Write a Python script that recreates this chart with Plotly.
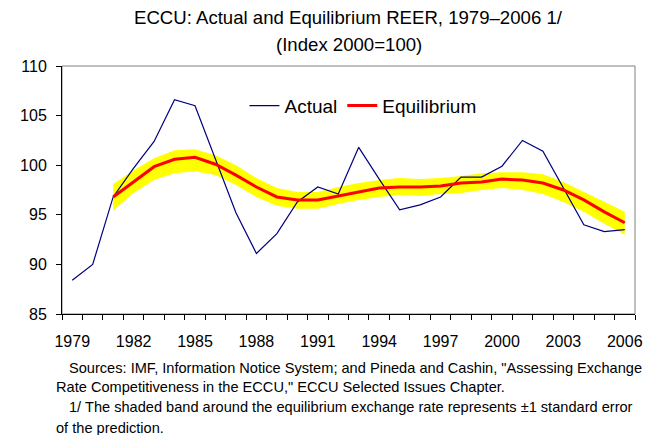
import plotly.graph_objects as go

# data
years = list(range(1979, 2007))
actual = [88.4, 90.0, 96.8, 99.7, 102.4, 106.6, 106.0, 100.6, 95.2, 91.1,
          93.1, 96.3, 97.8, 97.1, 101.8, 98.6, 95.5, 96.0, 96.8, 98.8,
          98.8, 99.9, 102.5, 101.4, 97.7, 94.0, 93.3, 93.5]

eq_years = list(range(1981, 2007))
equilibrium = [96.8, 98.3, 99.85, 100.6, 100.8, 100.1, 99.0, 97.8, 96.8, 96.5,
               96.5, 96.9, 97.3, 97.7, 97.8, 97.8, 97.9, 98.2, 98.3, 98.6,
               98.5, 98.2, 97.5, 96.5, 95.3, 94.2]
band_upper = [98.1, 99.5, 100.7, 101.5, 101.6, 101.0, 100.0, 98.7, 97.7, 97.3,
              97.3, 97.8, 98.2, 98.5, 98.7, 98.6, 98.7, 98.9, 99.2, 99.3,
              99.3, 99.1, 98.3, 97.3, 96.3, 95.3]
band_lower = [95.4, 97.2, 98.5, 99.2, 99.4, 99.0, 98.0, 96.8, 95.9, 95.6,
              95.6, 96.1, 96.5, 96.8, 97.0, 96.9, 97.1, 97.2, 97.5, 97.7,
              97.5, 97.1, 96.3, 95.3, 94.1, 93.0]

label_years = [1979, 1982, 1985, 1988, 1991, 1994, 1997, 2000, 2003, 2006]

FONT = "Liberation Sans, Arial, sans-serif"

# the page body has an 8px margin, so the figure is 8px smaller
# and positions below are given in window pixels
PLOT_L, PLOT_W, PLOT_B, PLOT_H = 57, 581, 314, 248


def px_x(px):
    return (px - PLOT_L) / PLOT_W


def px_y(py):
    return (PLOT_B - py) / PLOT_H


fig = go.Figure()

# shaded +/-1 s.e. band
fig.add_trace(go.Scatter(x=eq_years, y=band_lower, mode="lines",
                         line=dict(width=0, color="#FFFF00"),
                         showlegend=False, hoverinfo="skip"))
fig.add_trace(go.Scatter(x=eq_years, y=band_upper, mode="lines",
                         line=dict(width=0, color="#FFFF00"),
                         fill="tonexty", fillcolor="#FFFF00",
                         showlegend=False, hoverinfo="skip"))

fig.add_trace(go.Scatter(x=years, y=actual, mode="lines", name="Actual",
                         line=dict(color="#000080", width=1.2)))
fig.add_trace(go.Scatter(x=eq_years, y=equilibrium, mode="lines", name="Equilibrium",
                         line=dict(color="#FF0000", width=3)))

# gray frame on top/right
fig.add_shape(type="rect", xref="paper", yref="paper", x0=0, x1=1, y0=0, y1=1,
              line=dict(color="#808080", width=1), layer="below")

fig.update_layout(
    width=647, height=427,
    margin=dict(l=49, r=17, t=58, b=121),
    paper_bgcolor="white", plot_bgcolor="white",
    font=dict(family=FONT, size=16, color="black"),
    legend=dict(orientation="h", traceorder="normal",
                x=px_x(242), y=px_y(105.7), xanchor="left", yanchor="middle",
                bgcolor="rgba(0,0,0,0)", font=dict(family=FONT, size=19)),
    showlegend=True,
)

fig.update_xaxes(range=[1978.5, 2006.5], tickvals=label_years,
                 ticks="", showgrid=False, zeroline=False,
                 showline=True, linecolor="black", linewidth=1,
                 ticklabelstandoff=13,
                 minor=dict(tick0=1978.5, dtick=1, ticks="outside", ticklen=5,
                            tickcolor="black", showgrid=False),
                 tickfont=dict(size=16))
fig.update_yaxes(range=[85, 110], tickvals=[85, 90, 95, 100, 105, 110],
                 ticks="outside", ticklen=5, tickcolor="black",
                 showgrid=False, zeroline=False,
                 showline=True, linecolor="black", linewidth=1,
                 ticklabelstandoff=6, tickfont=dict(size=16))

# title lines
titles = [
    ("ECCU: Actual and Equilibrium REER, 1979\u20132006 1/", 17.6),
    ("(Index 2000=100)", 44),
]
for text, py in titles:
    fig.add_annotation(text=text, xref="paper", yref="paper",
                       x=0.5, y=px_y(py), xanchor="center", yanchor="middle",
                       showarrow=False, font=dict(family=FONT, size=18.6, color="black"))

footer = [
    ("Sources: IMF, Information Notice System; and Pineda and Cashin, \"Assessing Exchange", 62, 368),
    ("Rate Competitiveness in the ECCU,\" ECCU Selected Issues Chapter.", 49, 387),
    ("1/ The shaded band around the equilibrium exchange rate represents \u00b11 standard error", 62, 407),
    ("of the prediction.", 49, 428),
]
for text, px, py in footer:
    fig.add_annotation(text=text, xref="paper", yref="paper",
                       x=px_x(px), y=px_y(py),
                       xanchor="left", yanchor="middle", showarrow=False,
                       font=dict(family=FONT, size=14.6, color="black"))

fig.write_html("out.html")
